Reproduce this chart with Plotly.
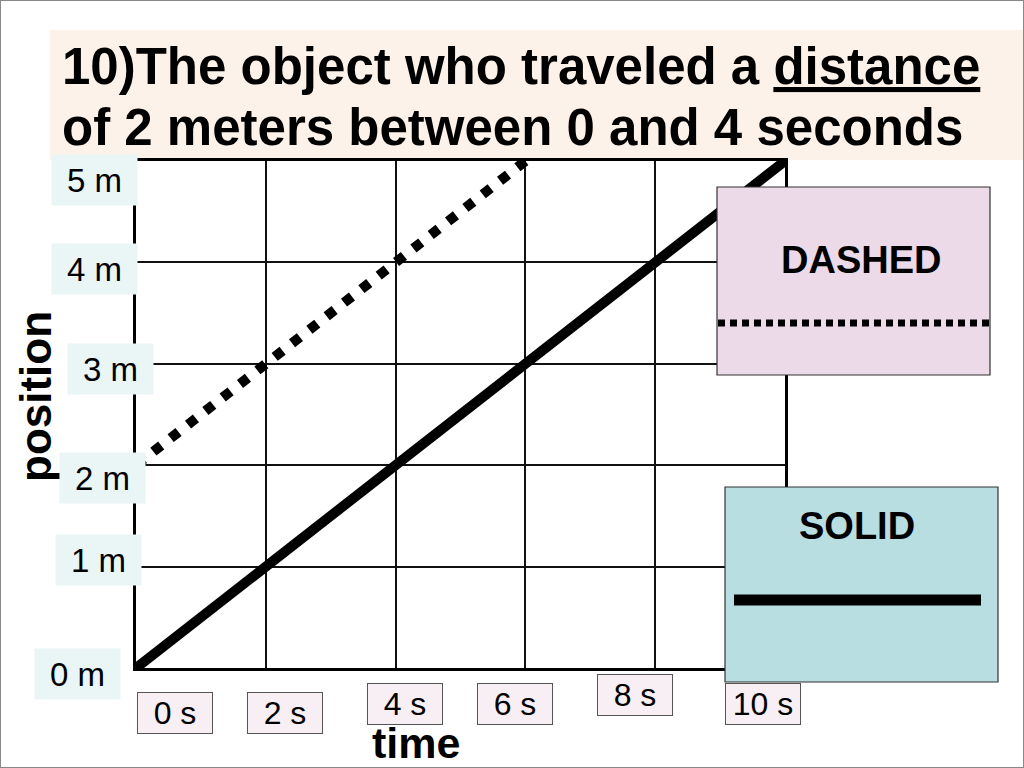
import plotly.graph_objects as go

# data
time_ticks = [0, 2, 4, 6, 8, 10]
time_labels = ["0 s", "2 s", "4 s", "6 s", "8 s", "10 s"]
pos_ticks = [0, 1, 2, 3, 4, 5]
pos_labels = ["0 m", "1 m", "2 m", "3 m", "4 m", "5 m"]

solid_t = [0, 10]
solid_x = [0, 5]
dashed_t = [0, 6]
dashed_x = [2, 5]

W, H = 1024, 768
FONT = "Liberation Sans, Arial, sans-serif"


def px(x):
    return x / W


def py(y):
    return 1 - y / H


# label box placement (pixels), tuned to the slide
x_label_shift = [39, 19, 9, -10, -20, -22]
x_label_y = [713, 713, 704, 704, 695, 704]
y_label_x = [77, 98, 102, 110, 94, 94]
y_label_shift = [-6, 7, -13, -5, -7, -19]

fig = go.Figure()

fig.add_trace(
    go.Scatter(
        x=solid_t,
        y=solid_x,
        mode="lines",
        line=dict(color="black", width=10),
        showlegend=False,
    )
)
fig.add_trace(
    go.Scatter(
        x=dashed_t,
        y=dashed_x,
        mode="lines",
        line=dict(color="black", width=10, dash="10px,12px"),
        showlegend=False,
    )
)

shapes = [
    # title band
    dict(type="rect", xref="paper", yref="paper", x0=px(50), x1=px(1024),
         y0=py(160), y1=py(30), fillcolor="#FCF2EA", line=dict(width=0),
         layer="below"),
    # dashed legend box
    dict(type="rect", xref="paper", yref="paper", x0=px(717), x1=px(990),
         y0=py(375), y1=py(187), fillcolor="#EDDAE8",
         line=dict(color="#333", width=1.2), layer="above"),
    dict(type="line", xref="paper", yref="paper", x0=px(718), x1=px(989),
         y0=py(323), y1=py(323), line=dict(color="black", width=7, dash="7px,5px"),
         layer="above"),
    # solid legend box
    dict(type="rect", xref="paper", yref="paper", x0=px(725), x1=px(998),
         y0=py(682), y1=py(487), fillcolor="#B8DEE1",
         line=dict(color="#333", width=1.2), layer="above"),
    dict(type="line", xref="paper", yref="paper", x0=px(734), x1=px(981),
         y0=py(600), y1=py(600), line=dict(color="black", width=11),
         layer="above"),
    # slide border
    dict(type="rect", xref="paper", yref="paper", x0=0, x1=1, y0=0, y1=1,
         line=dict(color="#888", width=2), layer="above"),
]

annotations = [
    dict(text="<b>10)The object who traveled a <u>distance</u></b>",
         xref="paper", yref="paper", x=px(60), y=py(66), xanchor="left",
         yanchor="middle", showarrow=False, font=dict(size=51, color="black")),
    dict(text="<b>of 2 meters between 0 and 4 seconds</b>",
         xref="paper", yref="paper", x=px(60), y=py(127), xanchor="left",
         yanchor="middle", showarrow=False, font=dict(size=51, color="black")),
    dict(text="<b>position</b>", xref="paper", yref="paper", x=px(35), y=py(397),
         xanchor="center", yanchor="middle",
         textangle=-90, showarrow=False, font=dict(size=44, color="black")),
    dict(text="<b>time</b>", xref="paper", yref="paper", x=px(416), y=py(743),
         xanchor="center", yanchor="middle",
         showarrow=False, font=dict(size=43, color="black")),
    dict(text="<b>DASHED</b>", xref="paper", yref="paper", x=px(861), y=py(260),
         xanchor="center", yanchor="middle",
         showarrow=False, font=dict(size=38, color="black")),
    dict(text="<b>SOLID</b>", xref="paper", yref="paper", x=px(857), y=py(526),
         xanchor="center", yanchor="middle",
         showarrow=False, font=dict(size=38, color="black")),
]

for t, lab, dx, yy in zip(time_ticks, time_labels, x_label_shift, x_label_y):
    annotations.append(
        dict(text=lab, xref="x", yref="paper", x=t, xshift=dx, y=py(yy),
             xanchor="center", yanchor="middle",
             showarrow=False, width=74, height=40, borderpad=0, borderwidth=1,
             bordercolor="#555", bgcolor="#F7EFF4",
             font=dict(size=32, color="black"))
    )

for v, lab, xx, dy in zip(pos_ticks, pos_labels, y_label_x, y_label_shift):
    annotations.append(
        dict(text=lab, xref="paper", yref="y", x=px(xx), y=v, yshift=dy,
             xanchor="center", yanchor="middle",
             showarrow=False, width=85, height=50, borderpad=0,
             bgcolor="#EAF5F6", font=dict(size=33, color="black"))
    )

fig.update_layout(
    width=W,
    height=H,
    margin=dict(l=0, r=0, t=0, b=0),
    paper_bgcolor="white",
    plot_bgcolor="white",
    font=dict(family=FONT, color="black"),
    shapes=shapes,
    annotations=annotations,
    showlegend=False,
    xaxis=dict(
        domain=[px(136), px(785)],
        range=[0, 10],
        tickvals=time_ticks,
        showticklabels=False,
        showgrid=True,
        gridcolor="#111",
        gridwidth=1.5,
        zeroline=False,
        showline=True,
        mirror=True,
        linecolor="black",
        linewidth=2.5,
        ticks="",
    ),
    yaxis=dict(
        domain=[py(668), py(161)],
        range=[0, 5],
        tickvals=pos_ticks,
        showticklabels=False,
        showgrid=True,
        gridcolor="#111",
        gridwidth=1.5,
        zeroline=False,
        showline=True,
        mirror=True,
        linecolor="black",
        linewidth=2.5,
        ticks="",
    ),
)

fig.write_html(
    "out.html",
    config={"displayModeBar": False},
    post_script="document.body.style.margin='0px';document.body.style.overflow='hidden';",
)
